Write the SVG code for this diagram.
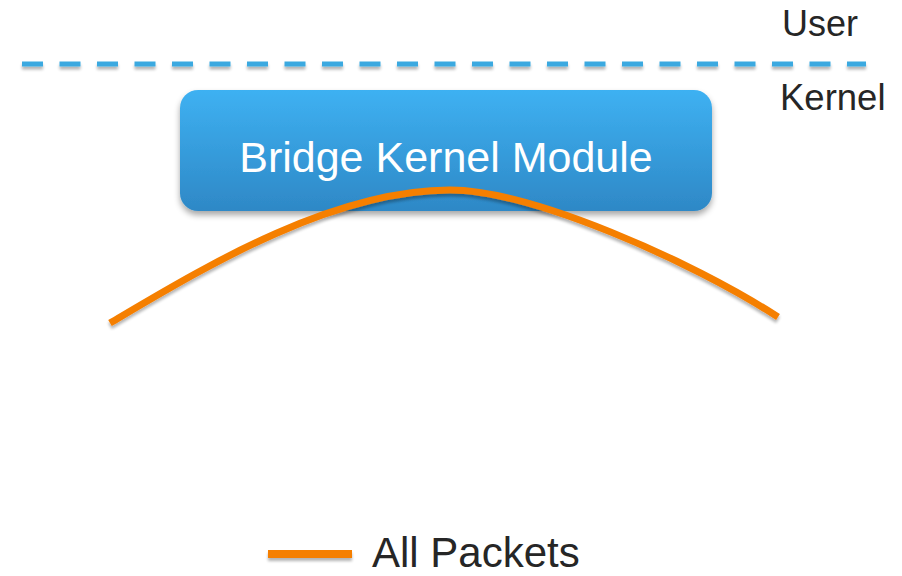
<svg xmlns="http://www.w3.org/2000/svg" width="902" height="576" viewBox="0 0 902 576">
  <style>
    .lbl { font-family: "Liberation Sans", Arial, sans-serif; fill: #262626; }
    .node-text { font-family: "Liberation Sans", Arial, sans-serif; fill: #ffffff; }
  </style>
  <defs>
    <linearGradient id="boxGrad" x1="0" y1="0" x2="0" y2="1">
      <stop offset="0" stop-color="#3eb1f2"/>
      <stop offset="1" stop-color="#2e88c6"/>
    </linearGradient>
    <filter id="shadow" x="-10%" y="-20%" width="120%" height="150%">
      <feGaussianBlur in="SourceAlpha" stdDeviation="3"/>
      <feOffset dx="0" dy="4" result="b"/>
      <feComponentTransfer><feFuncA type="linear" slope="0.35"/></feComponentTransfer>
      <feMerge><feMergeNode/><feMergeNode in="SourceGraphic"/></feMerge>
    </filter>
    <filter id="lineShadow" filterUnits="userSpaceOnUse" x="0" y="0" width="902" height="576">
      <feGaussianBlur in="SourceAlpha" stdDeviation="1.5"/>
      <feOffset dx="0" dy="3" result="b"/>
      <feComponentTransfer><feFuncA type="linear" slope="0.3"/></feComponentTransfer>
      <feMerge><feMergeNode/><feMergeNode in="SourceGraphic"/></feMerge>
    </filter>
  </defs>
  <rect width="902" height="576" fill="#ffffff"/>

  <g id="boundary">
    <line x1="22" y1="64" x2="866" y2="64" stroke="#3aa9e0" stroke-width="5" stroke-dasharray="21 16.5" filter="url(#lineShadow)"/>
    <text class="lbl" x="782" y="36" font-size="36">User</text>
    <text class="lbl" x="780" y="110" font-size="36.5">Kernel</text>
  </g>

  <g id="bridge">
    <rect x="180" y="90" width="532" height="121" rx="18" fill="url(#boxGrad)" filter="url(#shadow)"/>
    <text class="node-text" x="446" y="172" font-size="43" text-anchor="middle">Bridge Kernel Module</text>
  </g>

  <g id="connectors">
    <path d="M110,323 C200,270 330,190 450,190 C530,190 690,260 778,317" fill="none" stroke="#f57f00" stroke-width="7" filter="url(#lineShadow)"/>
  </g>

  <g id="legend">
    <line x1="268" y1="554" x2="352" y2="554" stroke="#f57f00" stroke-width="8" filter="url(#lineShadow)"/>
    <text class="lbl" x="372" y="567" font-size="42">All Packets</text>
  </g>
</svg>
